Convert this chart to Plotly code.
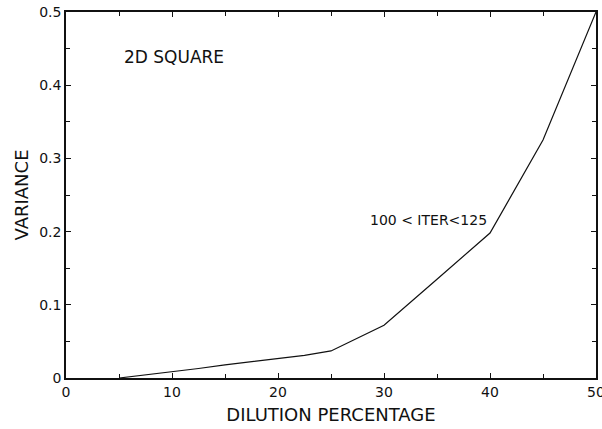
import plotly.graph_objects as go

dilution = [5, 7.5, 10, 12.5, 15, 17.5, 20, 22.5, 25, 30, 35, 40, 45, 50]
variance = [0.0, 0.004, 0.008, 0.013, 0.018, 0.022, 0.026, 0.031, 0.037, 0.072, 0.135, 0.198, 0.325, 0.5]

x_ticks = [0, 10, 20, 30, 40, 50]
y_ticks = [0, 0.1, 0.2, 0.3, 0.4, 0.5]
y_labels = ["0", "0.1", "0.2", "0.3", "0.4", "0.5"]

FONT = "DejaVu Sans"
INK = "#111111"

fig = go.Figure()
fig.add_trace(go.Scatter(x=dilution, y=variance, mode="lines",
                         line=dict(color=INK, width=1.2), showlegend=False))

fig.add_annotation(x=10.2, y=0.439, text="2D SQUARE", showarrow=False,
                   font=dict(family=FONT, size=17, color=INK))
fig.add_annotation(x=34.2, y=0.216, text="100 < ITER<125", showarrow=False,
                   font=dict(family=FONT, size=14, color=INK))

axis_common = dict(showgrid=False, zeroline=False, showline=True, linecolor=INK,
                   linewidth=1.5, mirror="ticks", ticks="inside", ticklen=5,
                   tickwidth=1.2, tickcolor=INK, ticklabeloverflow="allow",
                   automargin=False,
                   tickfont=dict(family=FONT, size=14, color=INK))

fig.update_xaxes(range=[0, 50], tickvals=x_ticks, ticktext=[str(v) for v in x_ticks],
                 minor=dict(dtick=5, ticks="inside", ticklen=4, tickcolor=INK, tickwidth=1.2),
                 title=dict(text="DILUTION PERCENTAGE", standoff=10,
                            font=dict(family=FONT, size=18, color=INK)),
                 **axis_common)
fig.update_yaxes(range=[0, 0.5], tickvals=y_ticks, ticktext=y_labels,
                 minor=dict(dtick=0.05, ticks="inside", ticklen=4, tickcolor=INK, tickwidth=1.2),
                 title=dict(text="VARIANCE", standoff=6,
                            font=dict(family=FONT, size=18, color=INK)),
                 **axis_common)

fig.update_layout(width=602, height=429,
                  margin=dict(l=66, r=6, t=12, b=51, autoexpand=False),
                  plot_bgcolor="white", paper_bgcolor="white")

fig.write_html("out.html", config={"displayModeBar": False},
               post_script="document.body.style.margin='0';document.body.style.overflow='hidden';")
